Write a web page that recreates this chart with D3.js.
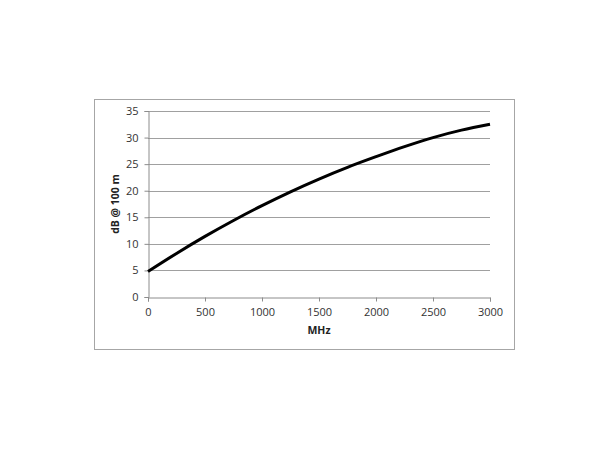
<!DOCTYPE html>
<html>
<head>
<meta charset="utf-8">
<script src="https://cdn.jsdelivr.net/npm/d3@7"></script>
<style>
  html, body { margin: 0; padding: 0; background: #fff; }
  svg { display: block; }
</style>
</head>
<body>
<svg id="chart" width="610" height="450"></svg>
<script>
// Data
const freqMHz = [0, 250, 500, 750, 1000, 1250, 1500, 1750, 2000, 2250, 2500, 2750, 3000];
const attenDb = [4.8, 8.2, 11.4, 14.4, 17.2, 19.8, 22.2, 24.4, 26.4, 28.3, 30.0, 31.4, 32.5];
const xTicks = [0, 500, 1000, 1500, 2000, 2500, 3000];
const yTicks = [0, 5, 10, 15, 20, 25, 30, 35];
const xTitle = "MHz";
const yTitle = "dB @ 100 m";

(function () {
const svg = d3.select("#chart");
const font = "'Open Sans', 'DejaVu Sans', sans-serif";

// Outer frame
svg.append("rect")
  .attr("x", 94.5).attr("y", 99.5)
  .attr("width", 420).attr("height", 250)
  .attr("fill", "#fff").attr("stroke", "#a6a6a6").attr("stroke-width", 1);

const pL = 148, pR = 490, pT = 111, pB = 297;
const x = d3.scaleLinear().domain([0, 3000]).range([pL, pR]);
const y = d3.scaleLinear().domain([0, 35]).range([pB, pT]);

// Gridlines
svg.append("g")
  .selectAll("line")
  .data(yTicks.filter(d => d > 0))
  .join("line")
  .attr("x1", pL).attr("x2", pR)
  .attr("y1", d => Math.round(y(d)) + 0.5).attr("y2", d => Math.round(y(d)) + 0.5)
  .attr("stroke", "#a0a0a0").attr("stroke-width", 1);

// Y axis
const yAxis = svg.append("g")
  .attr("transform", `translate(${pL + 0.5},0)`)
  .call(d3.axisLeft(y).tickValues(yTicks).tickSize(4).tickPadding(6).tickFormat(d3.format("d")));
yAxis.select(".domain").attr("stroke", "#8c8c8c");
yAxis.selectAll(".tick line").attr("stroke", "#8c8c8c");
yAxis.selectAll("text").attr("font-family", font).attr("font-size", 11).attr("fill", "#333");

// X axis
const xAxis = svg.append("g")
  .attr("transform", `translate(0,${pB + 0.5})`)
  .call(d3.axisBottom(x).tickValues(xTicks).tickSize(4).tickPadding(7).tickFormat(d3.format("d")));
xAxis.select(".domain").attr("stroke", "#8c8c8c");
xAxis.selectAll(".tick line").attr("stroke", "#8c8c8c");
xAxis.selectAll("text").attr("font-family", font).attr("font-size", 11).attr("fill", "#333");

// Axis titles
svg.append("text")
  .attr("x", (pL + pR) / 2).attr("y", 334)
  .attr("text-anchor", "middle")
  .attr("font-family", font).attr("font-size", 10.5).attr("font-weight", "bold").attr("fill", "#222")
  .text(xTitle);

svg.append("text")
  .attr("transform", `translate(119,${(pT + pB) / 2}) rotate(-90)`)
  .attr("text-anchor", "middle")
  .attr("font-family", font).attr("font-size", 10.5).attr("font-weight", "bold").attr("fill", "#222")
  .text(yTitle);

// Curve
const line = d3.line()
  .x((d, i) => x(freqMHz[i]))
  .y(d => y(d))
  .curve(d3.curveMonotoneX);

svg.append("path")
  .datum(attenDb)
  .attr("d", line)
  .attr("fill", "none")
  .attr("stroke", "#000")
  .attr("stroke-width", 3)
  .attr("stroke-linecap", "butt");
})();
</script>
</body>
</html>
